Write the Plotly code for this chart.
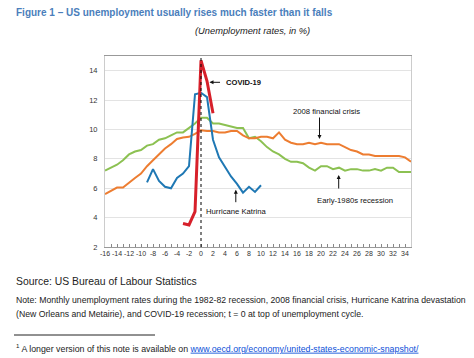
import plotly.graph_objects as go

# ---------------- data ----------------
t_1980s = list(range(-16, 36))
u_1980s = [7.2, 7.4, 7.6, 7.9, 8.3, 8.5, 8.6, 8.9, 9.0, 9.3, 9.4, 9.6, 9.8, 9.8, 10.1, 10.4,
           10.8, 10.8, 10.4, 10.4, 10.3, 10.2, 10.1, 10.1, 9.4, 9.5, 9.2, 8.8, 8.5, 8.3, 8.0, 7.8,
           7.8, 7.7, 7.4, 7.2, 7.5, 7.5, 7.3, 7.4, 7.2, 7.3, 7.3, 7.2, 7.2, 7.3, 7.2, 7.4, 7.4,
           7.1, 7.1, 7.1]

t_2008 = list(range(-16, 36))
u_2008 = [5.6, 5.8, 6.05, 6.05, 6.4, 6.7, 7.0, 7.5, 7.9, 8.3, 8.7, 9.0, 9.35, 9.45, 9.5, 9.7,
          9.95, 9.9, 9.9, 9.8, 9.8, 9.9, 9.9, 9.6, 9.4, 9.4, 9.5, 9.5, 9.4, 9.8, 9.3, 9.1,
          9.0, 9.0, 9.1, 9.0, 9.1, 9.0, 9.0, 9.0, 8.8, 8.6, 8.5, 8.3, 8.3, 8.2, 8.2, 8.2, 8.2,
          8.2, 8.1, 7.8]

t_katrina = list(range(-9, 11))
u_katrina = [6.4, 7.3, 6.5, 6.1, 6.0, 6.7, 7.0, 7.5, 12.4, 12.5, 12.2, 9.3, 8.1, 7.4, 6.8,
             6.3, 5.7, 6.1, 5.75, 6.2]

t_covid = [-3, -2, -1, 0, 1, 2]
u_covid = [3.6, 3.5, 4.4, 14.7, 13.3, 11.1]

x_ticks = list(range(-16, 36, 2))
y_ticks = [2, 4, 6, 8, 10, 12, 14]

# ---------------- styling ----------------
NARROW = "Liberation Sans Narrow, Arial Narrow, Liberation Sans, Arial, sans-serif"
REG = "Liberation Sans, Arial, sans-serif"
C_GREEN = "#8cc152"
C_ORANGE = "#ed7d31"
C_BLUE = "#1f78b4"
C_RED = "#d7202a"

fig = go.Figure()
fig.add_trace(go.Scatter(x=t_1980s, y=u_1980s, mode="lines", line=dict(color=C_GREEN, width=2), name="Early-1980s recession"))
fig.add_trace(go.Scatter(x=t_2008, y=u_2008, mode="lines", line=dict(color=C_ORANGE, width=2), name="2008 financial crisis"))
fig.add_trace(go.Scatter(x=t_katrina, y=u_katrina, mode="lines", line=dict(color=C_BLUE, width=2), name="Hurricane Katrina"))
fig.add_trace(go.Scatter(x=t_covid, y=u_covid, mode="lines", line=dict(color=C_RED, width=3), name="COVID-19"))

# dotted vertical line at t=0
fig.add_shape(type="line", x0=0, x1=0, y0=2, y1=15, xref="x", yref="y",
              line=dict(color="black", width=1, dash="dot"), layer="above")

# page has an 8px body margin: lay the figure out shifted by it
OFF = 8
W, H = 474, 358
ML, MT = 105 - OFF, 56 - OFF
PW, PH = 306, 191
MR = W - ML - PW
MB = H - MT - PH


def px(x):
    return (x - OFF - ML) / PW


def py(y):
    return (H - MB - (y - OFF)) / PH


ann = []
# title, subtitle
ann.append(dict(text="<b>Figure 1 – US unemployment usually rises much faster than it falls</b>",
                x=px(14), y=py(12.8), xref="paper", yref="paper", xanchor="left", yanchor="middle",
                showarrow=False, font=dict(family=NARROW, size=10, color="#4a7ebb")))
ann.append(dict(text="<i>(Unemployment rates, in %)</i>",
                x=px(252), y=py(31), xref="paper", yref="paper", xanchor="center", yanchor="middle",
                showarrow=False, font=dict(family=NARROW, size=9.3, color="#222222")))
# footer
ann.append(dict(text="Source: US Bureau of Labour Statistics",
                x=px(14), y=py(281), xref="paper", yref="paper", xanchor="left", yanchor="middle",
                showarrow=False, font=dict(family=REG, size=10.4, color="#222222")))
ann.append(dict(text="Note: Monthly unemployment rates during the 1982-82 recession, 2008 financial crisis, Hurricane Katrina devastation",
                x=px(14), y=py(300), xref="paper", yref="paper", xanchor="left", yanchor="middle",
                showarrow=False, font=dict(family=REG, size=8.7, color="#222222")))
ann.append(dict(text="(New Orleans and Metairie), and COVID-19 recession; t = 0 at top of unemployment cycle.",
                x=px(14), y=py(314), xref="paper", yref="paper", xanchor="left", yanchor="middle",
                showarrow=False, font=dict(family=REG, size=8.7, color="#222222")))
ann.append(dict(text="<sup>1</sup> A longer version of this note is available on "
                     "<span style='color:#0b4fd8'><u>www.oecd.org/economy/united-states-economic-snapshot/</u></span>",
                x=px(14), y=py(348), xref="paper", yref="paper", xanchor="left", yanchor="middle",
                showarrow=False, font=dict(family=REG, size=8.8, color="#222222")))

# series labels and arrows
lab_font = dict(family=NARROW, size=7.7, color="#111111")
arrow = dict(showarrow=True, arrowhead=2, arrowsize=0.8, arrowwidth=1, arrowcolor="#111111")
ann.append(dict(text="<b>COVID-19</b>", x=3.9, y=13.21, xanchor="left", yanchor="middle",
                showarrow=False, font=dict(family=NARROW, size=7.6, color="#111111")))
ann.append(dict(text="", x=1.42, y=13.21, ax=12, ay=0, **arrow))
ann.append(dict(text="2008 financial crisis", x=20.9, y=11.2, xanchor="center", yanchor="middle",
                showarrow=False, font=lab_font))
ann.append(dict(text="", x=19.75, y=9.35, ax=0, ay=-23, **arrow))
ann.append(dict(text="Early-1980s recession", x=25.7, y=5.18, xanchor="center", yanchor="middle",
                showarrow=False, font=lab_font))
ann.append(dict(text="", x=22.95, y=6.9, ax=0, ay=15, **arrow))
ann.append(dict(text="Hurricane Katrina", x=5.96, y=4.43, xanchor="center", yanchor="middle",
                showarrow=False, font=lab_font))
ann.append(dict(text="", x=5.8, y=5.9, ax=0, ay=14, **arrow))

# footnote separator
fig.add_shape(type="line", xref="paper", yref="paper", x0=px(14), x1=px(155), y0=py(335), y1=py(335),
              line=dict(color="#222222", width=1))

fig.update_layout(
    width=W, height=H,
    margin=dict(l=ML, r=MR, t=MT, b=MB, pad=0),
    paper_bgcolor="white", plot_bgcolor="white",
    showlegend=False,
    annotations=ann,
    xaxis=dict(range=[-16, 35], tickmode="array", tickvals=x_ticks, ticktext=[str(v) for v in x_ticks],
               tickangle=0, ticks="inside", ticklen=3, tickcolor="#888888", tickwidth=1,
               minor=dict(dtick=1, tick0=0, ticks="inside", ticklen=3, tickcolor="#888888", tickwidth=1, showgrid=False),
               showgrid=False, zeroline=False, showline=True, linecolor="#999999", linewidth=1, mirror=True,
               tickfont=dict(family=NARROW, size=7, color="#333333"), fixedrange=True),
    yaxis=dict(range=[2, 15], tickmode="array", tickvals=y_ticks, ticks="",
               showgrid=True, gridcolor="#e3e3e3", gridwidth=1, zeroline=False,
               showline=True, linecolor="#cccccc", linewidth=1, mirror=True,
               tickfont=dict(family=NARROW, size=7.5, color="#333333"), ticklabelstandoff=5, fixedrange=True),
)

fig.write_html("out.html")
